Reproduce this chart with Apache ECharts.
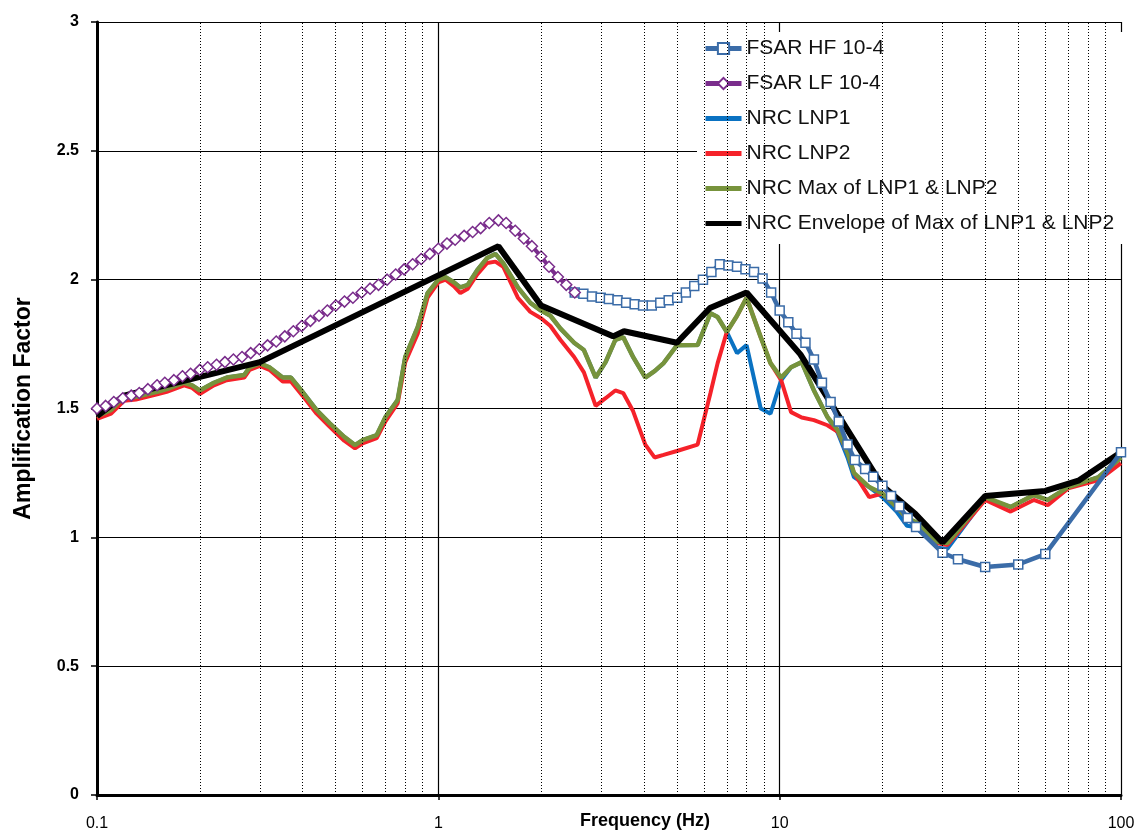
<!DOCTYPE html>
<html><head><meta charset="utf-8">
<script src="https://cdn.jsdelivr.net/npm/echarts@6/dist/echarts.min.js"></script>
<style>html,body{margin:0;padding:0;background:#fff}#c{width:1140px;height:835px}</style>
</head><body><div id="c"></div>
<script>
// ---- data ----
const SERIES_NAMES = ['FSAR HF 10-4','FSAR LF 10-4','NRC LNP1','NRC LNP2','NRC Max of LNP1 & LNP2','NRC Envelope of Max of LNP1 & LNP2'];

const LF_FREQ = [0.1,0.106,0.112,0.119,0.126,0.133,0.141,0.150,0.158,0.168,0.178,0.188,0.2,0.211,0.224,0.237,0.251,0.266,0.282,0.299,0.316,0.335,0.355,0.376,0.398,0.422,0.447,0.473,0.501,0.531,0.562,0.596,0.631,0.668,0.708,0.750,0.794,0.841,0.891,0.944,1.0,1.06,1.12,1.19,1.26,1.33,1.41,1.50,1.58,1.68,1.78,1.88,2.0,2.11,2.24,2.37,2.51];
const LF_VAL  = [1.50,1.51,1.525,1.54,1.55,1.56,1.575,1.59,1.60,1.61,1.625,1.635,1.65,1.66,1.67,1.68,1.69,1.70,1.715,1.73,1.745,1.76,1.78,1.80,1.82,1.84,1.86,1.88,1.90,1.915,1.93,1.95,1.965,1.98,2.00,2.02,2.04,2.06,2.08,2.10,2.12,2.14,2.155,2.17,2.185,2.20,2.22,2.23,2.22,2.19,2.16,2.13,2.09,2.05,2.01,1.98,1.95];

const HF_FREQ = [2.51,2.66,2.82,2.99,3.16,3.35,3.55,3.76,3.98,4.22,4.47,4.73,5.01,5.31,5.62,5.96,6.31,6.68,7.08,7.50,7.94,8.41,8.91,9.44,10.0,10.6,11.2,11.9,12.6,13.3,14.1,14.9,15.8,16.6,17.8,18.8,20.0,21.2,22.4,23.7,25.1,30.0,33.3,40.0,50.0,60.0,100];
const HF_VAL  = [1.95,1.945,1.935,1.93,1.925,1.92,1.91,1.905,1.90,1.90,1.91,1.92,1.93,1.95,1.975,2.00,2.03,2.06,2.055,2.05,2.04,2.03,2.005,1.95,1.88,1.835,1.79,1.755,1.69,1.60,1.525,1.45,1.36,1.30,1.265,1.235,1.20,1.16,1.12,1.075,1.04,0.94,0.915,0.885,0.895,0.935,1.33];

const NRC_FREQ = [0.1,0.11,0.12,0.13,0.15,0.16,0.18,0.19,0.2,0.22,0.24,0.27,0.28,0.3,0.32,0.35,0.37,0.4,0.44,0.48,0.53,0.57,0.6,0.66,0.7,0.76,0.8,0.87,0.93,1.0,1.05,1.11,1.16,1.22,1.3,1.39,1.47,1.55,1.71,1.86,2.0,2.13,2.28,2.5,2.67,2.89,3.09,3.3,3.48,3.72,4.04,4.3,4.57,5.0,5.75,6.27,6.58,7.0,7.5,8.0,8.8,9.4,10.1,10.8,11.6,12.6,13.8,14.8,15.8,16.5,18.3,20,22,23.6,25,29,31,40,47.5,55.5,61,70,86,100];
const NRC_MAX  = [1.47,1.494,1.545,1.545,1.565,1.575,1.60,1.59,1.57,1.60,1.62,1.63,1.66,1.675,1.66,1.62,1.62,1.565,1.494,1.443,1.39,1.358,1.377,1.397,1.467,1.533,1.70,1.816,1.948,2.0,2.01,1.99,1.97,1.98,2.037,2.084,2.10,2.064,1.97,1.91,1.88,1.86,1.81,1.755,1.727,1.62,1.68,1.766,1.777,1.70,1.62,1.645,1.676,1.745,1.746,1.87,1.855,1.797,1.86,1.93,1.777,1.676,1.62,1.66,1.68,1.57,1.467,1.416,1.33,1.25,1.195,1.17,1.118,1.075,1.06,0.982,0.978,1.156,1.118,1.164,1.145,1.195,1.234,1.31];
const NRC_LNP2 = [1.46,1.48,1.53,1.535,1.555,1.565,1.59,1.58,1.556,1.59,1.61,1.62,1.65,1.665,1.65,1.605,1.605,1.55,1.48,1.43,1.375,1.345,1.365,1.385,1.45,1.52,1.68,1.79,1.93,1.99,2.0,1.975,1.948,1.965,2.02,2.065,2.07,2.05,1.93,1.875,1.85,1.82,1.766,1.70,1.64,1.51,1.54,1.57,1.56,1.49,1.36,1.31,1.32,1.335,1.36,1.56,1.676,1.797,1.86,1.93,1.777,1.676,1.61,1.486,1.465,1.455,1.435,1.41,1.33,1.25,1.156,1.17,1.118,1.075,1.055,0.977,0.97,1.145,1.10,1.145,1.125,1.19,1.222,1.288];
const NRC_LNP1 = [1.47,1.494,1.545,1.545,1.565,1.575,1.60,1.59,1.57,1.60,1.62,1.63,1.66,1.675,1.66,1.62,1.62,1.565,1.494,1.443,1.39,1.358,1.377,1.397,1.467,1.533,1.70,1.816,1.948,2.0,2.01,1.99,1.97,1.98,2.037,2.084,2.10,2.064,1.97,1.91,1.88,1.86,1.81,1.755,1.727,1.62,1.68,1.766,1.777,1.70,1.62,1.645,1.676,1.745,1.746,1.87,1.855,1.797,1.715,1.746,1.50,1.48,1.61,1.66,1.68,1.57,1.467,1.405,1.31,1.234,1.195,1.156,1.10,1.045,1.04,0.96,0.955,1.152,1.118,1.164,1.145,1.195,1.234,1.31];

const ENV_FREQ = [0.1,0.12,0.3,1.5,2,3.25,3.5,5,6.25,8,11.5,20,25,30,40,60,75,100];
const ENV_VAL  = [1.47,1.55,1.68,2.13,1.90,1.78,1.80,1.755,1.89,1.95,1.71,1.20,1.09,0.98,1.16,1.18,1.22,1.33];

// gridline / tick positions
const X_MINOR_GRID = [0.2,0.3,0.4,0.5,0.6,0.7,0.8,0.9,2,3,4,5,6,7,8,9,20,30,40,50,60,70,80,90];
const Y_MIN = 0, Y_MAX = 3, Y_STEP = 0.5;

const zip = (xs, ys) => xs.map((x, i) => [x, ys[i]]);
const FONT = '"Liberation Sans", Arial, sans-serif';
const NO_SYMBOL = {color: 'rgba(0,0,0,0)', borderWidth: 0};

const chart = echarts.init(document.getElementById('c'), null, {renderer: 'canvas'});
chart.setOption({
  animation: false,
  backgroundColor: '#fff',
  grid: {left: 97, right: 19, top: 22, bottom: 40, containLabel: false, outerBoundsMode: 'none'},
  legend: {
    data: SERIES_NAMES,
    orient: 'vertical',
    left: 697, top: 32,
    backgroundColor: '#fff',
    padding: [6, 12, 10, 6],
    itemWidth: 36, itemHeight: 14, itemGap: 14,
    lineStyle: {width: 5},
    textStyle: {fontFamily: FONT, fontSize: 21, color: '#111'}
  },
  xAxis: {
    type: 'log', logBase: 10, min: 0.1, max: 100,
    name: 'Frequency (Hz)', nameLocation: 'middle', nameGap: 17, nameMoveOverlap: false,
    nameTextStyle: {fontFamily: FONT, fontSize: 18, fontWeight: 'bold', color: '#000', padding: [0, 0, 0, 72]},
    axisLine: {show: true, onZero: false, lineStyle: {color: '#000', width: 3}},
    axisTick: {show: true, length: 5, lineStyle: {color: '#000', width: 1.5}},
    minorTick: {show: false},
    axisLabel: {fontFamily: FONT, fontSize: 16, color: '#000', margin: 21,
      formatter: v => String(Number(Number(v).toPrecision(3)))},
    splitLine: {show: true, lineStyle: {color: '#000', width: 1.2}}
  },
  yAxis: {
    type: 'value', min: Y_MIN, max: Y_MAX, interval: Y_STEP,
    name: 'Amplification Factor', nameLocation: 'middle', nameGap: 62, nameMoveOverlap: false,
    nameTextStyle: {fontFamily: FONT, fontSize: 23, fontWeight: 'bold', color: '#000'},
    axisLine: {show: true, lineStyle: {color: '#000', width: 3}},
    axisTick: {show: true, length: 6, lineStyle: {color: '#000', width: 1.5}},
    axisLabel: {fontFamily: FONT, fontSize: 16, fontWeight: 'bold', color: '#000', margin: 18},
    splitLine: {show: true, lineStyle: {color: '#000', width: 1.2}}
  },
  series: [
    {
      name: 'minor-grid', type: 'line', data: [], silent: true, z: 1,
      markLine: {
        silent: true, symbol: ['none', 'none'], animation: false,
        label: {show: false},
        lineStyle: {color: '#000', width: 1, type: [1, 2]},
        emphasis: {disabled: true},
        data: X_MINOR_GRID.map(v => ({xAxis: v}))
      }
    },
    {name: SERIES_NAMES[2], type: 'line', data: zip(NRC_FREQ, NRC_LNP1), symbol: 'none', z: 2,
      lineStyle: {color: '#0a72c2', width: 4}, itemStyle: NO_SYMBOL},
    {name: SERIES_NAMES[3], type: 'line', data: zip(NRC_FREQ, NRC_LNP2), symbol: 'none', z: 2,
      lineStyle: {color: '#f5222a', width: 4}, itemStyle: NO_SYMBOL},
    {name: SERIES_NAMES[4], type: 'line', data: zip(NRC_FREQ, NRC_MAX), symbol: 'none', z: 2,
      lineStyle: {color: '#77933c', width: 4.5}, itemStyle: NO_SYMBOL},
    {name: SERIES_NAMES[5], type: 'line', data: zip(ENV_FREQ, ENV_VAL), symbol: 'none', z: 2,
      lineStyle: {color: '#000', width: 6}, itemStyle: NO_SYMBOL},
    {name: SERIES_NAMES[0], type: 'line', data: zip(HF_FREQ, HF_VAL), z: 3,
      symbol: 'rect', symbolSize: 9, showAllSymbol: true,
      lineStyle: {color: '#3b6ca8', width: 4.5},
      itemStyle: {color: '#fff', borderColor: '#3b6ca8', borderWidth: 1.5}},
    {name: SERIES_NAMES[1], type: 'line', data: zip(LF_FREQ, LF_VAL), z: 3,
      symbol: 'diamond', symbolSize: 11, showAllSymbol: true,
      lineStyle: {color: '#7a2d8c', width: 4},
      itemStyle: {color: '#fff', borderColor: '#7a2d8c', borderWidth: 1.5}}
  ]
});
</script></body></html>
